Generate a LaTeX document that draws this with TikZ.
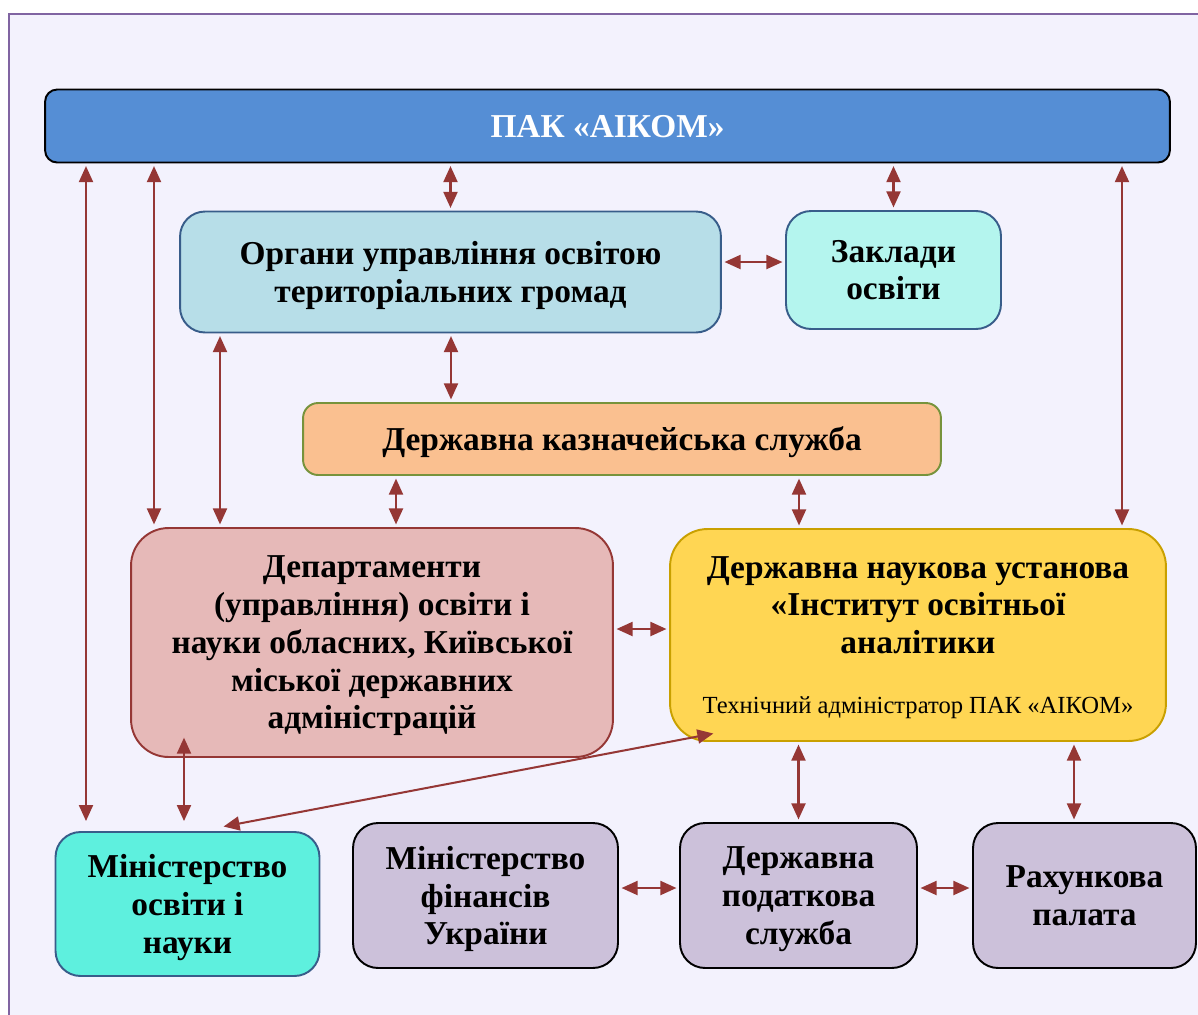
\documentclass[tikz,border=0pt]{standalone}
\usepackage{fontspec}
\setmainfont{Liberation Serif}
\usetikzlibrary{arrows.meta}
\definecolor{bgc}{HTML}{F3F2FD}
\definecolor{framec}{HTML}{8064A2}
\definecolor{arrc}{HTML}{953735}
\definecolor{pakc}{HTML}{558ED5}
\definecolor{orgc}{HTML}{B7DEE8}
\definecolor{zaklc}{HTML}{B4F5EE}
\definecolor{kaznc}{HTML}{FAC090}
\definecolor{kazndc}{HTML}{77933C}
\definecolor{depc}{HTML}{E6B9B8}
\definecolor{dnuc}{HTML}{FFD653}
\definecolor{dnudc}{HTML}{C9A000}
\definecolor{monc}{HTML}{5EF0DE}
\definecolor{grc}{HTML}{CCC1DA}
\definecolor{bluec}{HTML}{385D8A}

\begin{document}
\begin{tikzpicture}[x=0.02cm,y=-0.02cm,
  box/.style={draw,rounded corners=0.5cm,line width=1.1pt,align=center,inner sep=2pt,
    text depth=-2pt,font=\bfseries\fontsize{19}{21.5}\selectfont},
  low/.style={text depth=-6pt},
  link/.style={color=arrc,line width=1.15pt,shorten <=1.5pt,shorten >=1.5pt,
    {Triangle[width=0.28cm,length=0.32cm]}-{Triangle[width=0.28cm,length=0.32cm]}}]
  \useasboundingbox (0,0) rectangle (1198,1015);
  % background and frame
  \fill[white] (0,0) rectangle (1198,1015);
  \fill[bgc] (9,14) rectangle (1198,1015);
  \draw[framec,line width=1.2pt] (1198,14) -- (9,14) -- (9,1015);
  % boxes
  \node[box,fill=pakc,text=white,rounded corners=0.24cm,minimum width=22.5cm,minimum height=1.46cm]
    (pak) at (607.5,126) {ПАК «АІКОМ»};
  \node[box,fill=orgc,draw=bluec,minimum width=10.82cm,minimum height=2.42cm]
    (org) at (450.5,272) {Органи управління освітою\\територіальних громад};
  \node[box,fill=zaklc,draw=bluec,minimum width=4.3cm,minimum height=2.36cm]
    (zakl) at (893.5,270) {Заклади\\освіти};
  \node[box,fill=kaznc,draw=kazndc,rounded corners=0.3cm,minimum width=12.76cm,minimum height=1.44cm]
    (kazn) at (622,439) {Державна казначейська служба};
  \node[box,low,fill=depc,draw=arrc,rounded corners=0.75cm,minimum width=9.64cm,minimum height=4.58cm]
    (dep) at (372,642.5) {Департаменти\\(управління) освіти і\\науки обласних, Київської\\міської державних\\адміністрацій};
  \node[box,low,fill=dnuc,draw=dnudc,rounded corners=0.75cm,minimum width=9.92cm,minimum height=4.24cm]
    (dnu) at (918,635) {Державна наукова установа\\«Інститут освітньої\\аналітики\\[0.45cm]
    {\mdseries\fontsize{14}{16}\selectfont Технічний адміністратор ПАК «АІКОМ»}};
  \node[box,low,fill=monc,draw=bluec,minimum width=5.28cm,minimum height=2.88cm]
    (mon) at (187.5,904) {Міністерство\\освіти і\\науки};
  \node[box,low,fill=grc,minimum width=5.3cm,minimum height=2.9cm]
    (minfin) at (485.5,895.5) {Міністерство\\фінансів\\України};
  \node[box,low,fill=grc,minimum width=4.74cm,minimum height=2.9cm]
    (dps) at (798.5,895.5) {Державна\\податкова\\служба};
  \node[box,fill=grc,minimum width=4.46cm,minimum height=2.9cm]
    (rah) at (1084.5,895.5) {Рахункова\\палата};
  % free ends inside boxes
  \coordinate (depin) at (184,735);
  \coordinate (dnuin) at (716,733);
  \coordinate (monin) at (221,827);
  % links
  \draw[link,shorten >=0.2cm] (pak.south -| 86,0) -- (mon.north -| 86,0);
  \draw[link] (pak.south -| 154,0) -- (dep.north -| 154,0);
  \draw[link] (org.south -| 220,0) -- (dep.north -| 220,0);
  \draw[link] (pak.south -| org.north) -- (org.north);
  \draw[link] (org.south -| 451,0) -- (kazn.north -| 451,0);
  \draw[link] (pak.south -| zakl.north) -- (zakl.north);
  \draw[link] (org.east |- 0,262) -- (zakl.west |- 0,262);
  \draw[link] (kazn.south -| 396,0) -- (dep.north -| 396,0);
  \draw[link] (kazn.south -| 799,0) -- (dnu.north -| 799,0);
  \draw[link] (pak.south -| 1122,0) -- (dnu.north -| 1122,0);
  \draw[link] (dep.east |- 0,629) -- (dnu.west |- 0,629);
  \draw[link,shorten >=0.2cm] (depin) -- (mon.north -| depin);
  \draw[link] (dnuin) -- (monin);
  \draw[link] (dnu.south -| dps.north) -- (dps.north);
  \draw[link] (dnu.south -| 1074,0) -- (rah.north -| 1074,0);
  \draw[link] (minfin.east |- 0,888) -- (dps.west |- 0,888);
  \draw[link] (dps.east |- 0,888) -- (rah.west |- 0,888);
\end{tikzpicture}
\end{document}
